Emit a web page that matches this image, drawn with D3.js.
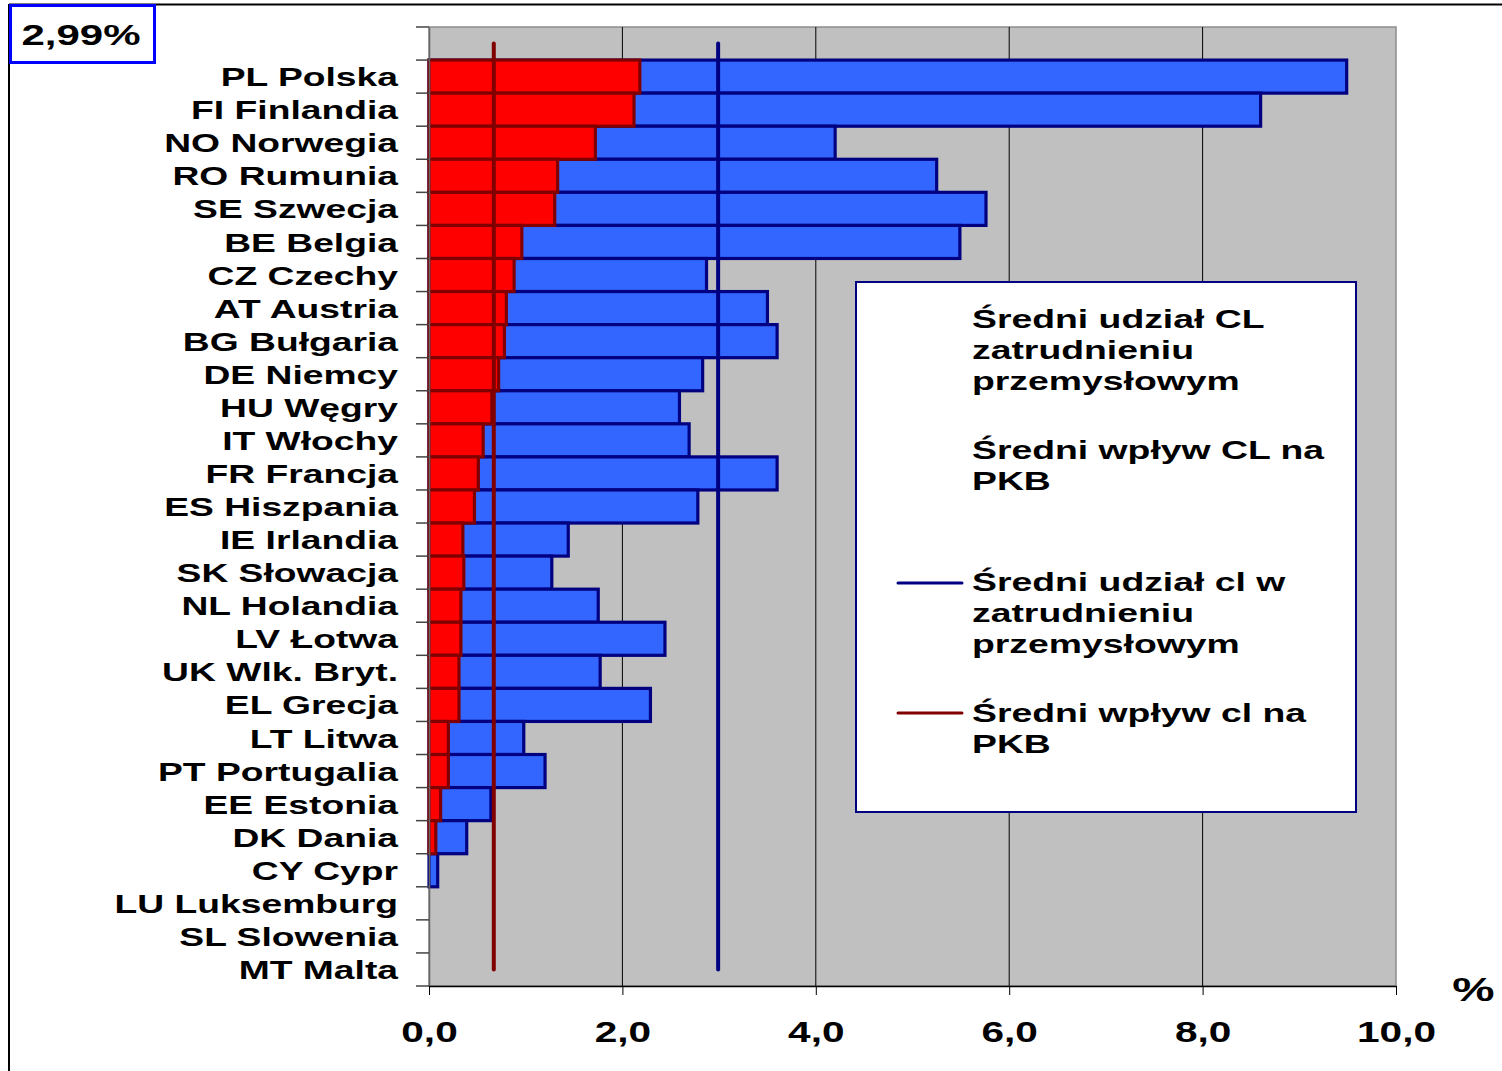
<!DOCTYPE html>
<html><head><meta charset="utf-8">
<script src="https://cdn.jsdelivr.net/npm/d3@7"></script>
<style>
body{margin:0;background:#fff}
svg{display:block}
text{font-family:"Liberation Sans",Arial,sans-serif;font-weight:bold;fill:#000}
</style>
</head><body>
<svg id="c" width="1502" height="1071"></svg>
<script>
// ---- data ----
const categories = ["", "PL Polska", "FI Finlandia", "NO Norwegia", "RO Rumunia", "SE Szwecja", "BE Belgia",
  "CZ Czechy", "AT Austria", "BG Bułgaria", "DE Niemcy", "HU Węgry", "IT Włochy", "FR Francja",
  "ES Hiszpania", "IE Irlandia", "SK Słowacja", "NL Holandia", "LV Łotwa", "UK Wlk. Bryt.",
  "EL Grecja", "LT Litwa", "PT Portugalia", "EE Estonia", "DK Dania", "CY Cypr",
  "LU Luksemburg", "SL Slowenia", "MT Malta"];
const employmentShare = [0, 9.49, 8.60, 4.20, 5.25, 5.76, 5.49, 2.87, 3.50, 3.60, 2.83, 2.59, 2.69, 3.60,
  2.78, 1.44, 1.27, 1.75, 2.44, 1.77, 2.29, 0.98, 1.20, 0.64, 0.39, 0.09, 0, 0, 0];
const gdpImpact = [0, 2.18, 2.12, 1.72, 1.33, 1.30, 0.96, 0.88, 0.80, 0.78, 0.72, 0.65, 0.56, 0.51,
  0.47, 0.35, 0.36, 0.33, 0.33, 0.31, 0.31, 0.20, 0.20, 0.12, 0.07, 0, 0, 0, 0];
const avgEmploymentShare = 2.99;
const avgGdpImpact = 0.67;
const xTicks = [0, 2, 4, 6, 8, 10];
const boxLabel = "2,99%";
const unitLabel = "%";
const legendLabels = [
  ["Średni udział CL", "zatrudnieniu", "przemysłowym"],
  ["Średni wpływ CL na", "PKB"],
  ["Średni udział cl w", "zatrudnieniu", "przemysłowym"],
  ["Średni wpływ cl na", "PKB"]
];

// ---- layout ----
const SX = 1.4; // horizontal text stretch
const svg = d3.select("#c");
const plot = {left: 429, right: 1396, top: 27, bottom: 986};
const x = d3.scaleLinear().domain([0, 10]).range([plot.left, plot.right]);
const y = d3.scaleBand().domain(categories).range([plot.top, plot.bottom]).padding(0);

function stretchedText(parent, tx, ty, str, size, anchor, sx) {
  parent.append("g").attr("transform", `translate(${tx},${ty}) scale(${sx || SX},1)`)
    .append("text").attr("text-anchor", anchor || "start").attr("font-size", size).text(str);
}

// outer frame
svg.append("line").attr("x1", 9).attr("x2", 1502).attr("y1", 4.5).attr("y2", 4.5).attr("stroke", "#000").attr("stroke-width", 2);
svg.append("line").attr("x1", 9).attr("x2", 9).attr("y1", 4).attr("y2", 1071).attr("stroke", "#000").attr("stroke-width", 2);

// plot background
svg.append("rect").attr("x", plot.left).attr("y", plot.top)
  .attr("width", plot.right - plot.left).attr("height", plot.bottom - plot.top)
  .attr("fill", "#C0C0C0").attr("stroke", "#8c8c8c").attr("stroke-width", 1.5);

// gridlines
svg.append("g").selectAll("line").data(xTicks.filter(d => d > 0 && d < 10)).join("line")
  .attr("x1", d => x(d)).attr("x2", d => x(d)).attr("y1", plot.top).attr("y2", plot.bottom)
  .attr("stroke", "#000").attr("stroke-width", 1);

// bars
const rows = categories.map((c, i) => ({c, blue: employmentShare[i], red: gdpImpact[i]}));
svg.append("g").selectAll("rect").data(rows.filter(d => d.blue > 0)).join("rect")
  .attr("x", x(0)).attr("y", d => y(d.c)).attr("width", d => x(d.blue) - x(0)).attr("height", y.bandwidth())
  .attr("fill", "#3366FF").attr("stroke", "#000080").attr("stroke-width", 3.2);
svg.append("g").selectAll("rect").data(rows.filter(d => d.red > 0)).join("rect")
  .attr("x", x(0)).attr("y", d => y(d.c)).attr("width", d => x(d.red) - x(0)).attr("height", y.bandwidth())
  .attr("fill", "#FF0000").attr("stroke", "#800000").attr("stroke-width", 3.2);

// average lines (line series through category centres)
const line = d3.line().x(d => x(d.v)).y(d => y(d.c) + y.bandwidth() / 2);
svg.append("path").datum(categories.map(c => ({c, v: avgGdpImpact})))
  .attr("d", line).attr("fill", "none").attr("stroke", "#800000").attr("stroke-width", 4).attr("stroke-linecap", "round");
svg.append("path").datum(categories.map(c => ({c, v: avgEmploymentShare})))
  .attr("d", line).attr("fill", "none").attr("stroke", "#000080").attr("stroke-width", 4).attr("stroke-linecap", "round");

// y axis
const yAxisG = svg.append("g").attr("transform", `translate(${plot.left},0)`)
  .call(d3.axisLeft(y).tickSize(0).tickPadding(0));
yAxisG.select(".domain").attr("stroke", "#666").attr("stroke-width", 1.5);
yAxisG.selectAll(".tick text")
  .attr("x", -31 / SX).attr("dy", "0.36em").attr("font-size", 26.6)
  .attr("font-family", '"Liberation Sans",Arial,sans-serif').attr("font-weight", "bold")
  .attr("fill", "#000").attr("transform", `scale(${SX},1)`);
const bounds = categories.map(c => y(c)).concat([plot.bottom]);
svg.append("g").selectAll("line").data(bounds).join("line")
  .attr("x1", plot.left - 13).attr("x2", plot.left).attr("y1", d => d).attr("y2", d => d)
  .attr("stroke", "#444").attr("stroke-width", 1.5);

// x axis
const xAxisG = svg.append("g").attr("transform", `translate(0,${plot.bottom})`)
  .call(d3.axisBottom(x).tickValues(xTicks).tickSize(9).tickSizeOuter(0)
    .tickFormat(d => d.toFixed(1).replace(".", ",")));
xAxisG.select(".domain").attr("stroke", "#000").attr("stroke-width", 1.5);
xAxisG.selectAll(".tick line").attr("stroke", "#000").attr("stroke-width", 1);
xAxisG.selectAll(".tick text").attr("y", 56).attr("dy", 0).attr("font-size", 29)
  .attr("font-family", '"Liberation Sans",Arial,sans-serif').attr("font-weight", "bold")
  .attr("fill", "#000").attr("transform", `scale(${SX},1)`);

// unit label
stretchedText(svg, 1473.5, 1001, unitLabel, 34, "middle");

// value box
svg.append("rect").attr("x", 10.5).attr("y", 5.5).attr("width", 144).attr("height", 57)
  .attr("fill", "#fff").attr("stroke", "#0000FF").attr("stroke-width", 3);
stretchedText(svg, 81, 45, boxLabel, 30, "middle");

// legend
const lg = svg.append("g");
lg.append("rect").attr("x", 856).attr("y", 282).attr("width", 500).attr("height", 530)
  .attr("fill", "#fff").attr("stroke", "#000080").attr("stroke-width", 2);
const entryTop = [328, 459, 591, 722];
const lineGap = 31;
legendLabels.forEach((lines, i) => {
  lines.forEach((t, j) => stretchedText(lg, 972, entryTop[i] + j * lineGap, t, 25.5, "start", 1.465));
});
lg.append("line").attr("x1", 898).attr("x2", 962).attr("y1", 583).attr("y2", 583)
  .attr("stroke", "#000080").attr("stroke-width", 3).attr("stroke-linecap", "round");
lg.append("line").attr("x1", 898).attr("x2", 962).attr("y1", 713).attr("y2", 713)
  .attr("stroke", "#800000").attr("stroke-width", 3).attr("stroke-linecap", "round");
</script>
</body></html>
